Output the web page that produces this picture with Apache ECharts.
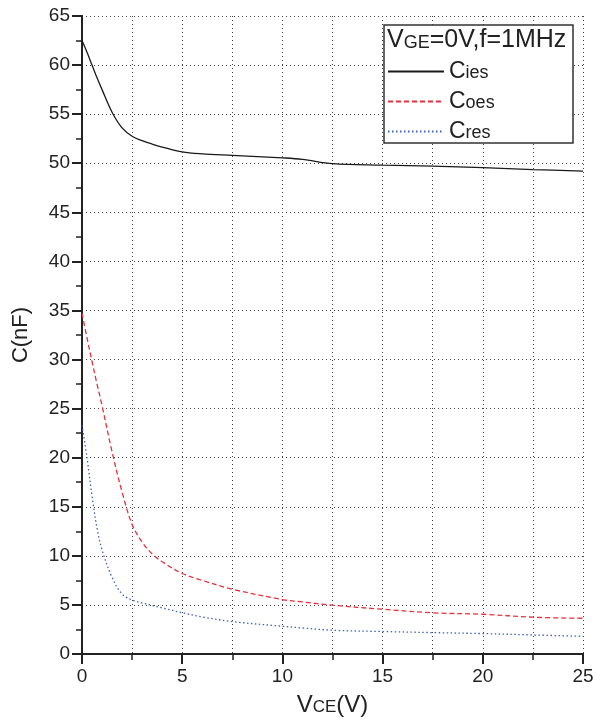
<!DOCTYPE html>
<html>
<head>
<meta charset="utf-8">
<script src="https://cdn.jsdelivr.net/npm/echarts@6/dist/echarts.min.js"></script>
<style>
    html, body { margin: 0; padding: 0; background: #fff; }
    #chart { width: 597px; height: 724px; }
</style>
</head>
<body>
<div id="chart"></div>
<script>
// VCE (V)
var vce = [0, 0.25, 0.5, 0.75, 1, 1.5, 2, 2.5, 3, 3.5, 4, 5, 6, 7.5, 10, 11, 12.5, 15, 17.5, 20, 22.5, 25];
// capacitances (nF)
var cies = [62.5, 61.3, 60.0, 58.7, 57.5, 55.2, 53.6, 52.75, 52.3, 51.95, 51.65, 51.15, 50.95, 50.8, 50.55, 50.4, 49.95, 49.8, 49.7, 49.55, 49.35, 49.2];
var coes = [34.7, 32.2, 29.8, 27.5, 25.3, 20.6, 16.5, 13.2, 11.4, 10.2, 9.4, 8.2, 7.5, 6.6, 5.55, 5.3, 4.97, 4.56, 4.2, 4.05, 3.75, 3.64];
var cres = [23.3, 20.0, 16.1, 12.8, 10.6, 7.8, 6.1, 5.5, 5.2, 4.95, 4.7, 4.2, 3.78, 3.3, 2.83, 2.65, 2.42, 2.29, 2.18, 2.08, 1.94, 1.8];
var seriesNames = ['Cies', 'Coes', 'Cres'];

var FONT = '"Liberation Sans", Arial, sans-serif';
var INK = '#222';

function pairs(ys) {
    var out = [];
    for (var i = 0; i < vce.length; i++) {
        out.push([vce[i], ys[i]]);
    }
    return out;
}

var gridLine = { show: true, lineStyle: { type: [1, 3], color: '#444', width: 1 } };

var option = {
    backgroundColor: '#fff',
    animation: false,
    textStyle: { fontFamily: FONT, color: INK },
    grid: { left: 82, right: 14, top: 16, bottom: 70 },
    xAxis: [{
        type: 'value',
        position: 'bottom',
        min: 0,
        max: 25,
        interval: 5,
        name: '{a|V}{b|CE}{a|(V)}',
        nameLocation: 'middle',
        nameGap: 39,
        nameTextStyle: {
            rich: {
                a: { fontSize: 24, fontFamily: FONT, color: INK },
                b: { fontSize: 17, fontFamily: FONT, color: INK, padding: [5, 0, 0, 0] }
            }
        },
        axisLine: { lineStyle: { color: INK, width: 2 } },
        axisTick: { length: 10, lineStyle: { color: INK, width: 2 } },
        minorTick: { show: true, splitNumber: 2, length: 6, lineStyle: { color: INK, width: 1.5 } },
        axisLabel: { fontSize: 19, color: INK, margin: 13, fontFamily: FONT },
        splitLine: gridLine,
        minorSplitLine: gridLine
    }, {
        type: 'value',
        position: 'top',
        min: 0,
        max: 25,
        interval: 5,
        axisLine: { lineStyle: { color: INK, width: 2 } },
        axisTick: { inside: true, length: 4, lineStyle: { color: INK, width: 1.5 } },
        minorTick: { show: true, splitNumber: 2, length: 4, lineStyle: { color: INK, width: 1.5 } },
        axisLabel: { show: false },
        splitLine: { show: false }
    }],
    yAxis: [{
        type: 'value',
        position: 'left',
        min: 0,
        max: 65,
        interval: 5,
        name: 'C(nF)',
        nameLocation: 'middle',
        nameGap: 50,
        nameTextStyle: { fontSize: 22, color: INK, fontFamily: FONT },
        axisLine: { lineStyle: { color: INK, width: 2 } },
        axisTick: { length: 10, lineStyle: { color: INK, width: 2 } },
        minorTick: { show: true, splitNumber: 2, length: 6, lineStyle: { color: INK, width: 1.5 } },
        axisLabel: { fontSize: 19, color: INK, margin: 12, fontFamily: FONT },
        splitLine: gridLine
    }, {
        type: 'value',
        position: 'right',
        min: 0,
        max: 65,
        interval: 5,
        axisLine: { show: true, lineStyle: { color: INK, width: 2 } },
        axisTick: { show: true, inside: true, length: 4, lineStyle: { color: INK, width: 1.5 } },
        axisLabel: { show: false },
        splitLine: { show: false }
    }],
    legend: {
        orient: 'vertical',
        left: 387,
        top: 60,
        padding: 0,
        z: 10,
        itemWidth: 56,
        itemHeight: 14,
        itemGap: 7,
        data: seriesNames,
        itemStyle: { opacity: 0 },
        formatter: function(n) {
            return '{a|C}{b|' + n.slice(1) + '}';
        },
        textStyle: {
            rich: {
                a: { fontSize: 23, lineHeight: 24, fontFamily: FONT, color: INK },
                b: { fontSize: 18, lineHeight: 24, fontFamily: FONT, color: INK, padding: [4, 0, 0, 0] }
            }
        }
    },
    graphic: [{
        type: 'rect',
        shape: { x: 384, y: 25, width: 189, height: 118 },
        style: { fill: '#fff', stroke: '#333', lineWidth: 1.5 },
        z: 3
    }, {
        type: 'text',
        left: 387,
        top: 28,
        z: 11,
        style: {
            text: '{a|V}{b|GE}{a|=0V,f=1MHz}',
            rich: {
                a: { fontSize: 25, fontFamily: FONT, fill: INK },
                b: { fontSize: 18, fontFamily: FONT, fill: INK, padding: [5, 0, 0, 0] }
            }
        }
    }],
    series: [{
        name: 'Cies',
        type: 'line',
        data: pairs(cies),
        symbol: 'none',
        smooth: 0.35,
        lineStyle: { color: '#1a1a1a', width: 1.3 },
        itemStyle: { color: '#1a1a1a' }
    }, {
        name: 'Coes',
        type: 'line',
        data: pairs(coes),
        symbol: 'none',
        smooth: 0.35,
        lineStyle: { color: '#e8303a', width: 1.3, type: [5, 3] },
        itemStyle: { color: '#e8303a' }
    }, {
        name: 'Cres',
        type: 'line',
        data: pairs(cres),
        symbol: 'none',
        smooth: 0.35,
        lineStyle: { color: '#3a63c0', width: 1.3, type: [1.5, 2.5] },
        itemStyle: { color: '#3a63c0' }
    }]
};

var chart = echarts.init(document.getElementById('chart'));
chart.setOption(option);
</script>
</body>
</html>
